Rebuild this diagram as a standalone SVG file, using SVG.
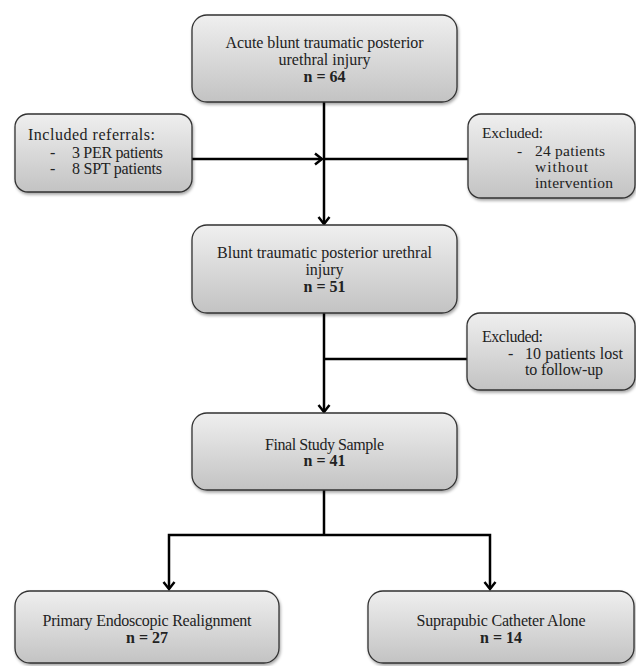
<svg xmlns="http://www.w3.org/2000/svg" width="636" height="666" viewBox="0 0 636 666">
  <defs>
    <linearGradient id="g" x1="0" y1="0" x2="0" y2="1">
      <stop offset="0" stop-color="#efefef"/>
      <stop offset="1" stop-color="#c3c3c3"/>
    </linearGradient>
    <filter id="sh" x="-10%" y="-10%" width="120%" height="130%">
      <feDropShadow dx="1" dy="2" stdDeviation="1.5" flood-color="#000" flood-opacity="0.35"/>
    </filter>
    <marker id="arr" markerUnits="userSpaceOnUse" markerWidth="16" markerHeight="16" refX="10" refY="7" orient="auto">
      <path d="M3,1.5 L10,7 L3,12.5" fill="none" stroke="#000" stroke-width="2.5"/>
    </marker>
    <style>
      .box { fill: url(#g); stroke: #333; stroke-width: 1.3; filter: url(#sh); }
      text { font-family: "Liberation Serif", "Times New Roman", serif; font-size: 16px; fill: #222; }
      .s { font-size: 15.5px; }
      .c { text-anchor: middle; }
      .b { font-weight: bold; }
      .ln { stroke: #000; stroke-width: 2.5; fill: none; }
    </style>
  </defs>
  <rect width="636" height="666" fill="#fff"/>

  <g id="connectors">
    <line class="ln" x1="324" y1="102" x2="324" y2="224" marker-end="url(#arr)"/>
    <line class="ln" x1="192" y1="159" x2="322" y2="159" marker-end="url(#arr)"/>
    <line class="ln" x1="324" y1="159" x2="468" y2="159"/>
    <line class="ln" x1="324" y1="313" x2="324" y2="412" marker-end="url(#arr)"/>
    <line class="ln" x1="324" y1="359" x2="467" y2="359"/>
    <polyline class="ln" points="324,490 324,535"/>
    <polyline class="ln" points="324,535 169,535 169,589" marker-end="url(#arr)"/>
    <polyline class="ln" points="324,535 490,535 490,589" marker-end="url(#arr)"/>
  </g>

  <g id="n1">
    <rect class="box" x="192" y="15" width="265" height="87" rx="15"/>
    <text class="c" x="324.5" y="48" textLength="198">Acute blunt traumatic posterior</text>
    <text class="c" x="324.5" y="65" textLength="92">urethral injury</text>
    <text class="c b" x="324.5" y="82">n = 64</text>
  </g>

  <g id="n2">
    <rect class="box" x="15" y="114" width="177" height="78" rx="13"/>
    <text x="28" y="140" textLength="127">Included referrals:</text>
    <text x="50" y="158">-</text>
    <text x="72" y="158" textLength="91">3 PER patients</text>
    <text x="50" y="174">-</text>
    <text x="72" y="174" textLength="90">8 SPT patients</text>
  </g>

  <g id="n3">
    <rect class="box" x="468" y="114" width="167" height="84" rx="13"/>
    <text class="s" x="482" y="138" textLength="61">Excluded:</text>
    <text class="s" x="517" y="156">-</text>
    <text class="s" x="535" y="156" textLength="70">24 patients</text>
    <text class="s" x="535" y="172" textLength="53">without</text>
    <text class="s" x="535" y="188" textLength="78">intervention</text>
  </g>

  <g id="n4">
    <rect class="box" x="192" y="225" width="265" height="88" rx="15"/>
    <text class="c" x="324.5" y="258" textLength="215">Blunt traumatic posterior urethral</text>
    <text class="c" x="324.5" y="275">injury</text>
    <text class="c b" x="324.5" y="292">n = 51</text>
  </g>

  <g id="n5">
    <rect class="box" x="467" y="313" width="168" height="77" rx="13"/>
    <text x="482" y="342" textLength="61">Excluded:</text>
    <text x="508" y="359">-</text>
    <text x="525" y="359" textLength="98">10 patients lost</text>
    <text x="525" y="375" textLength="78">to follow-up</text>
  </g>

  <g id="n6">
    <rect class="box" x="192" y="413" width="265" height="77" rx="15"/>
    <text class="c" x="324.5" y="450" textLength="119">Final Study Sample</text>
    <text class="c b" x="324.5" y="466">n = 41</text>
  </g>

  <g id="n7">
    <rect class="box" x="15" y="591" width="264" height="72" rx="15"/>
    <text class="c" x="147" y="626" textLength="209">Primary Endoscopic Realignment</text>
    <text class="c b" x="147" y="643">n = 27</text>
  </g>

  <g id="n8">
    <rect class="box" x="368" y="591" width="266" height="72" rx="15"/>
    <text class="c" x="501" y="626" textLength="169">Suprapubic Catheter Alone</text>
    <text class="c b" x="501" y="643">n = 14</text>
  </g>
</svg>
